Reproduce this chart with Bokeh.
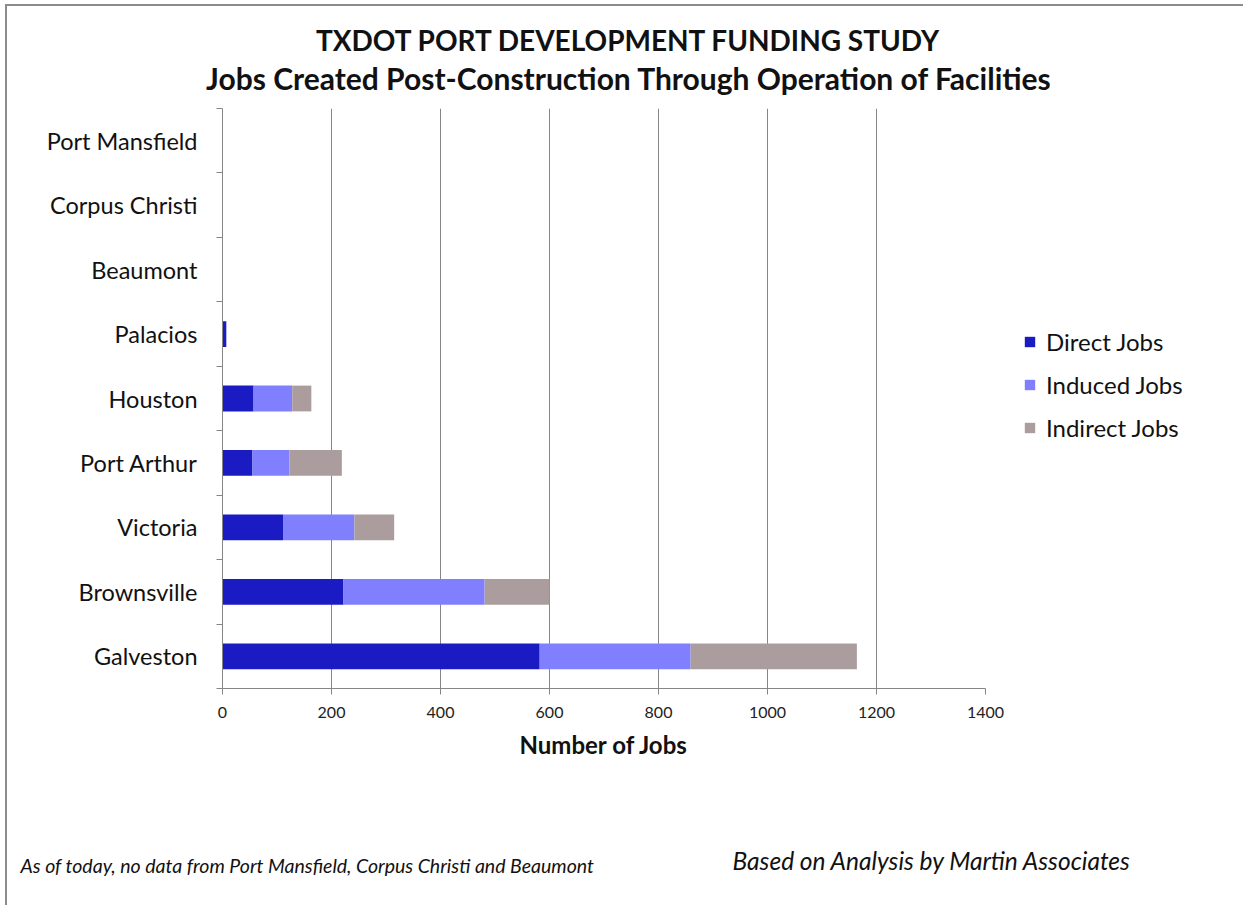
import numpy as np
from bokeh.plotting import figure
from bokeh.models import (Range1d, LinearAxis, FixedTicker, Legend, LegendItem, Title)
from bokeh.embed import file_html
from bokeh.resources import INLINE

# ---------------- data ----------------
ports = ["Galveston", "Brownsville", "Victoria", "Port Arthur", "Houston",
         "Palacios", "Beaumont", "Corpus Christi", "Port Mansfield"]
direct_jobs = [582, 222, 111, 55, 57, 7, 0, 0, 0]
induced_jobs = [277, 259, 131, 68, 71, 0, 0, 0, 0]
indirect_jobs = [305, 119, 73, 96, 35, 0, 0, 0, 0]
x_ticks = [0, 200, 400, 600, 800, 1000, 1200, 1400]
series_names = ["Direct Jobs", "Induced Jobs", "Indirect Jobs"]
series_colors = ["#1b1bc3", "#8080ff", "#ab9d9d"]

title1 = "TXDOT PORT DEVELOPMENT FUNDING STUDY"
title2 = "Jobs Created Post-Construction Through Operation of Facilities"
x_title = "Number of Jobs"
note_left = "As of today, no data from Port Mansfield, Corpus Christi and Beaumont"
note_right = "Based on Analysis by Martin Associates"

FONT = "Lato"
TXT = "#111111"
GRAY = "#868686"

# ---------------- layout (canvas offset by the css border) ----------------
OX, OY = 7, 6
FL, FT, FW, FH = 222 - OX, 108 - OY, 763, 580
XMAX = x_ticks[-1]
n = len(ports)

p = figure(frame_width=FW, frame_height=FH, output_backend="svg", toolbar_location=None,
           x_range=Range1d(0, XMAX), y_range=Range1d(-0.5, n - 0.5),
           min_border_left=FL, min_border_top=FT,
           min_border_right=1243 - OX - FL - FW - 8, min_border_bottom=905 - OY - FT - FH,
           x_axis_location=None, y_axis_location=None)
p.outline_line_color = None
p.background_fill_color = "white"
p.border_fill_color = "white"
p.styles = {"border-left": "2px solid #8c8c8c", "border-top": "2px solid #8c8c8c",
            "margin-left": "5px", "margin-top": "4px"}

xaxis = LinearAxis(ticker=FixedTicker(ticks=x_ticks, minor_ticks=[]))
xaxis.axis_line_color = GRAY
xaxis.major_tick_line_color = GRAY
xaxis.major_tick_out = 6
xaxis.major_tick_in = 0
xaxis.minor_tick_line_color = None
xaxis.major_label_text_font = FONT
xaxis.major_label_text_font_size = "16px"
xaxis.major_label_text_color = "#222222"
xaxis.major_label_standoff = 12
xaxis.axis_label = x_title
xaxis.axis_label_text_font = FONT
xaxis.axis_label_text_font_style = "bold"
xaxis.axis_label_text_font_size = "24px"
xaxis.axis_label_text_color = TXT
xaxis.axis_label_standoff = 9
p.add_layout(xaxis, "below")

idx = list(range(n))
yaxis = LinearAxis(ticker=FixedTicker(ticks=idx, minor_ticks=[i - 0.5 for i in range(n + 1)]))
yaxis.major_label_overrides = {i: ports[i] for i in idx}
yaxis.axis_line_color = GRAY
yaxis.major_tick_line_color = None
yaxis.major_tick_out = 0
yaxis.major_tick_in = 0
yaxis.minor_tick_line_color = GRAY
yaxis.minor_tick_out = 6
yaxis.minor_tick_in = 0
yaxis.major_label_text_font = FONT
yaxis.major_label_text_font_size = "23.5px"
yaxis.major_label_text_color = TXT
yaxis.major_label_standoff = 19
p.add_layout(yaxis, "left")

p.xgrid.ticker = FixedTicker(ticks=x_ticks[1:])
p.xgrid.grid_line_color = GRAY
p.xgrid.grid_line_width = 1
p.ygrid.grid_line_color = None

d = np.array(direct_jobs, dtype=float)
ind = np.array(induced_jobs, dtype=float)
indi = np.array(indirect_jobs, dtype=float)
stacks = [(np.zeros(n), d), (d, d + ind), (d + ind, d + ind + indi)]
renderers = []
for (l, r), c in zip(stacks, series_colors):
    rr = p.hbar(y=idx, left=list(l), right=list(r), height=0.4,
                fill_color=c, line_color=None)
    renderers.append(rr)

legend = Legend(items=[LegendItem(label=nm, renderers=[rr]) for nm, rr in zip(series_names, renderers)],
                location=(38, 246))
legend.border_line_color = None
legend.background_fill_alpha = 0
legend.padding = 0
legend.margin = 0
legend.glyph_width = 13
legend.glyph_height = 13
legend.label_standoff = 10
legend.label_height = 20
legend.spacing = 14
legend.label_text_font = FONT
legend.label_text_font_size = "24px"
legend.label_text_color = TXT
p.add_layout(legend, "right")


# titles (nearest to the frame first)
def add_title(text, side, offset, standoff, size, style, valign="middle"):
    p.add_layout(Title(text=text, align="left", offset=offset, standoff=standoff,
                       vertical_align=valign, text_font=FONT, text_font_size=size,
                       text_font_style=style, text_color=TXT), side)


add_title(title2, "above", -16.5, 24, "30px", "bold")
add_title(title1, "above", 93.5, -22, "28px", "bold")
add_title(note_right, "below", 510, 167, "24.5px", "italic")
add_title(note_left, "below", -202, -212, "19.5px", "italic", valign="top")

open("out.html", "w").write(file_html(p, INLINE))
